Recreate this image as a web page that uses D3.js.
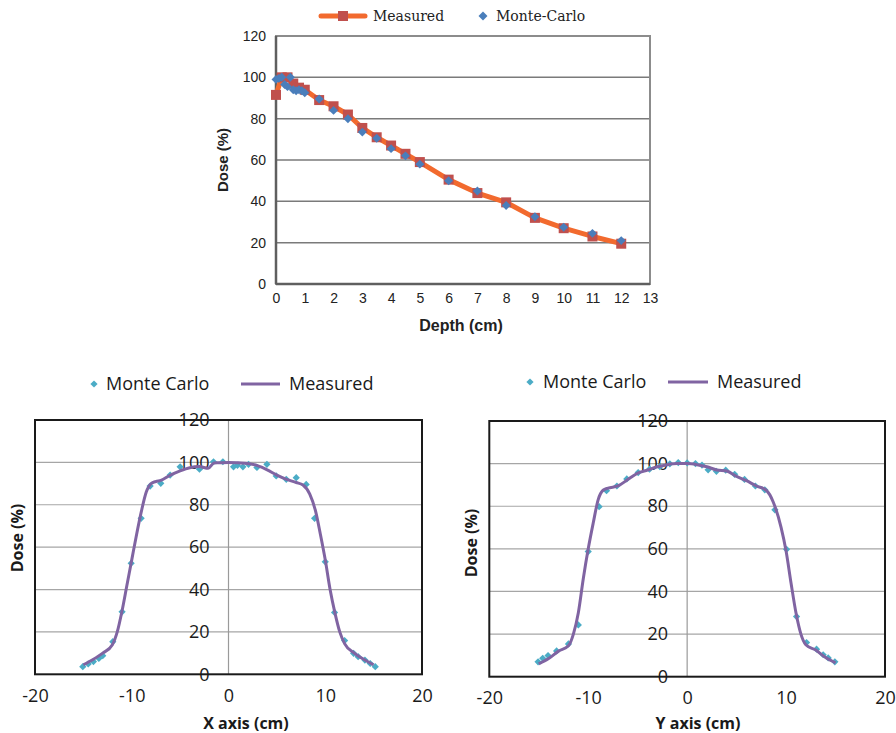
<!DOCTYPE html>
<html><head><meta charset="utf-8">
<script src="https://cdn.jsdelivr.net/npm/d3@7"></script>
<style>body{margin:0;background:#fff}svg{display:block}</style>
</head><body>
<svg id="c" width="896" height="733"></svg>
<script>
// ---- Top chart: depth dose ----
const pddMeasDepth = [0,0.2,0.4,0.6,0.8,1,1.5,2,2.5,3,3.5,4,4.5,5,6,7,8,9,10,11,12];
const pddMeasDose  = [91.5,100,100,97,95,94,89,86,82,75.5,71,67,63,59,50.5,44,39.5,32,27,23,19.5];
const pddMCDepth = [0,0.1,0.2,0.3,0.4,0.5,0.6,0.7,0.8,0.9,1,1.5,2,2.5,3,3.5,4,4.5,5,6,7,8,9,10,11,12];
const pddMCDose  = [99,99.5,100,96.5,95.5,100,94,93.5,94,93.5,92.5,89.5,84,80,73.5,70.5,65.5,62,58,50,45,38,32.5,27.5,24.5,21];
const pddXTicks = [0,1,2,3,4,5,6,7,8,9,10,11,12,13];
const doseTicks = [0,20,40,60,80,100,120];

// ---- Bottom left: X profile ----
const xMCPos  = [-15.06,-14.5,-13.96,-13.4,-13.0,-11.96,-11.0,-10.06,-9.03,-8.1,-7.0,-6.03,-5.0,-3.0,-1.55,-0.58,0.52,0.93,1.49,2.07,2.94,3.97,4.93,5.97,7.0,8.03,8.9,10.0,10.96,12.0,12.93,13.4,14.1,14.65,15.17];
const xMCDose = [3.6,4.9,6.0,7.5,8.8,15.4,29.5,52.4,73.6,88.8,90.1,94.0,97.9,96.8,100.3,100.3,97.9,98.6,97.9,99.1,97.6,99.1,93.6,92.0,92.8,89.6,73.6,53.1,29.2,15.9,9.9,8.3,6.7,5.1,3.6];
const xMeasPos  = [-15,-14,-13,-12,-11.5,-11,-10.5,-10,-9.5,-9,-8.5,-8,-7.5,-7,-6,-5,-4,-3,-2.1,-1.5,-1,0,1,2,3,4,5,6,7,7.7,8.4,9,9.5,10,10.5,11,11.5,12,13,14,15];
const xMeasDose = [4.5,7,10,14,20,30,42,54,66,77,86,90,91,91.5,94,96,97.5,98,97.2,99.7,99.8,100,99.8,99.5,98.5,96.5,94,92,90.5,89.3,85,77,66,54,40,29,20,14.5,10,7,4.5];

// ---- Bottom right: Y profile ----
const yMCPos  = [-15.07,-14.6,-14.06,-13.2,-12.0,-11.0,-10.0,-8.9,-8.15,-7.1,-6.1,-4.95,-3.8,-2.76,-1.75,-0.9,0,0.84,1.5,2.12,2.96,3.9,4.8,5.8,6.9,7.85,8.87,10.05,11.06,12.07,13.08,13.75,14.26,14.93];
const yMCDose = [7.0,8.6,9.9,12.1,15.4,24.3,58.7,79.8,87.3,89.5,92.8,95.8,97.4,98.6,99.9,100.5,100.3,100,99.3,97.1,96.4,96.9,95,92.6,89.5,87.7,78.3,59.8,28.2,16.0,12.9,10.3,8.8,7.0];
const yMeasPos  = [-15,-14,-13,-12,-11.5,-11,-10.5,-10,-9.5,-9,-8.5,-8,-7,-6,-5,-4,-3,-2,-1,0,1,2,3,4,5,6,7,8,8.7,9.5,10,10.5,11,11.5,12,13,14,15];
const yMeasDose = [6,8.5,12,14.5,20,30,46,60,72,83,87.5,88.5,89.5,92.5,95.5,97,98.5,99.5,100,100,99.5,98.5,97,96.5,94,92,89.5,87.5,82,70,59,44,30,20,15,12.5,9,6.5];
const profXTicks = [-20,-10,0,10,20];
const profYTicks = [0,20,40,60,80,100,120];

const svg = d3.select("#c");
const square = d3.symbol().type(d3.symbolSquare);
const fmt = d => String(d);

// ================= TOP CHART =================
(function(){
  const x = d3.scaleLinear().domain([0,13]).range([276,650]);
  const y = d3.scaleLinear().domain([0,120]).range([284,36]);
  const g = svg.append("g").attr("font-family","'Liberation Sans', Arial, sans-serif");
  g.selectAll("line.grid").data(doseTicks.filter(d=>d>0&&d<120)).enter().append("line")
    .attr("x1",x(0)).attr("x2",x(13)).attr("y1",d=>y(d)).attr("y2",d=>y(d))
    .attr("stroke","#7a7a7a").attr("stroke-width",1.5);
  g.append("rect").attr("x",x(0)).attr("y",y(120)).attr("width",x(13)-x(0)).attr("height",y(0)-y(120))
    .attr("fill","none").attr("stroke","#8c8c8c").attr("stroke-width",2);
  g.append("line").attr("x1",x(0)).attr("x2",x(13)).attr("y1",y(0)).attr("y2",y(0)).attr("stroke","#5f5f5f").attr("stroke-width",2.5);
  g.append("line").attr("x1",x(0)).attr("x2",x(0)).attr("y1",y(0)).attr("y2",y(120)).attr("stroke","#5f5f5f").attr("stroke-width",2.5);
  const xa = d3.axisBottom(x).tickValues(pddXTicks).tickFormat(fmt).tickSize(0).tickPadding(9);
  const xg = g.append("g").attr("transform",`translate(0,${y(0)})`).call(xa);
  xg.select(".domain").remove();
  xg.selectAll("text").attr("font-size",14).attr("fill","#222").attr("font-family","'Liberation Sans', Arial, sans-serif");
  const ya = d3.axisLeft(y).tickValues(doseTicks).tickFormat(fmt).tickSize(0).tickPadding(10);
  const yg = g.append("g").attr("transform",`translate(${x(0)},0)`).call(ya);
  yg.select(".domain").remove();
  yg.selectAll("text").attr("font-size",14).attr("fill","#222").attr("font-family","'Liberation Sans', Arial, sans-serif");
  const meas = pddMeasDepth.map((d,i)=>[d,pddMeasDose[i]]);
  const mc = pddMCDepth.map((d,i)=>[d,pddMCDose[i]]);
  g.append("path").datum(meas).attr("fill","none").attr("stroke","#f26a2e").attr("stroke-width",5)
    .attr("stroke-linejoin","round").attr("d",d3.line().x(d=>x(d[0])).y(d=>y(d[1])));
  g.selectAll("rect.sq").data(meas).enter().append("rect")
    .attr("x",d=>x(d[0])-5).attr("y",d=>y(d[1])-5).attr("width",10).attr("height",10).attr("fill","#c0504d");
  g.selectAll("path.mc").data(mc).enter().append("path")
    .attr("transform",d=>`translate(${x(d[0])},${y(d[1])}) rotate(45)`).attr("d",square.size(40)()).attr("fill","#4a7ebb");
  g.append("text").attr("x",461).attr("y",331).attr("text-anchor","middle").attr("font-weight","bold").attr("font-size",16).attr("fill","#222").text("Depth (cm)");
  g.append("text").attr("transform","translate(228,160) rotate(-90)").attr("text-anchor","middle").attr("font-weight","bold").attr("font-size",15).attr("fill","#222").text("Dose (%)");
  const lg = g.append("g").attr("font-family","'DejaVu Serif', serif").attr("font-size",14).attr("fill","#222");
  lg.append("line").attr("x1",321).attr("x2",365).attr("y1",16).attr("y2",16).attr("stroke","#f26a2e").attr("stroke-width",5).attr("stroke-linecap","round");
  lg.append("rect").attr("x",338).attr("y",11).attr("width",10).attr("height",10).attr("fill","#c0504d");
  lg.append("text").attr("x",373).attr("y",21).text("Measured");
  lg.append("path").attr("transform","translate(483,16) rotate(45)").attr("d",square.size(40)()).attr("fill","#4a7ebb");
  lg.append("text").attr("x",496).attr("y",21).text("Monte-Carlo");
})();

// ================= PROFILE CHARTS =================
function profile(opt){
  const x = d3.scaleLinear().domain([-20,20]).range([opt.left,opt.right]);
  const y = d3.scaleLinear().domain([0,120]).range([opt.bottom,opt.top]);
  const g = svg.append("g").attr("font-family","'Open Sans', sans-serif");
  g.selectAll("line.grid").data(profYTicks.filter(d=>d>0&&d<120)).enter().append("line")
    .attr("x1",x(-20)).attr("x2",x(20)).attr("y1",d=>y(d)).attr("y2",d=>y(d))
    .attr("stroke","#a6a6a6").attr("stroke-width",1.2);
  g.append("line").attr("x1",x(0)).attr("x2",x(0)).attr("y1",y(0)).attr("y2",y(120)).attr("stroke","#9a9a9a").attr("stroke-width",1.2);
  g.append("rect").attr("x",x(-20)).attr("y",y(120)).attr("width",x(20)-x(-20)).attr("height",y(0)-y(120))
    .attr("fill","none").attr("stroke","#1a1a1a").attr("stroke-width",2);
  const ya = d3.axisLeft(y).tickValues(profYTicks).tickFormat(fmt).tickSize(0).tickPadding(19);
  const yg = g.append("g").attr("transform",`translate(${x(0)},0)`).call(ya);
  yg.select(".domain").remove();
  yg.selectAll("text").attr("font-size",18).attr("fill","#1a1a1a").attr("font-family","'Open Sans', sans-serif");
  const xa = d3.axisBottom(x).tickValues(profXTicks).tickFormat(fmt).tickSize(0).tickPadding(15);
  const xg = g.append("g").attr("transform",`translate(0,${y(0)})`).call(xa);
  xg.select(".domain").remove();
  xg.selectAll("text").attr("font-size",18).attr("fill","#1a1a1a").attr("font-family","'Open Sans', sans-serif");
  const mc = opt.mcPos.map((d,i)=>[d,opt.mcDose[i]]);
  const meas = opt.measPos.map((d,i)=>[d,opt.measDose[i]]);
  g.selectAll("path.mc").data(mc).enter().append("path")
    .attr("transform",d=>`translate(${x(d[0])},${y(d[1])}) rotate(45)`).attr("d",square.size(26)()).attr("fill","#4bacc6");
  g.append("path").datum(meas).attr("fill","none").attr("stroke","#8064a2").attr("stroke-width",3)
    .attr("stroke-linejoin","round").attr("d",d3.line().curve(d3.curveMonotoneX).x(d=>x(d[0])).y(d=>y(d[1])));
  g.append("text").attr("x",opt.xtX).attr("y",opt.xtY).attr("text-anchor","middle").attr("font-weight","bold").attr("font-size",16).attr("fill","#1a1a1a").text(opt.xTitle);
  g.append("text").attr("transform",`translate(${opt.ytX},${opt.ytY}) rotate(-90)`).attr("text-anchor","middle").attr("font-weight","bold").attr("font-size",16).attr("fill","#1a1a1a").text("Dose (%)");
  const L = opt.leg;
  g.append("path").attr("transform",`translate(${L.dx},${L.y}) rotate(45)`).attr("d",square.size(26)()).attr("fill","#4bacc6");
  g.append("text").attr("x",L.t1).attr("y",L.y+6).attr("font-size",18).attr("fill","#1a1a1a").text("Monte Carlo");
  g.append("line").attr("x1",L.l1).attr("x2",L.l2).attr("y1",L.y).attr("y2",L.y).attr("stroke","#8064a2").attr("stroke-width",3);
  g.append("text").attr("x",L.t2).attr("y",L.y+6).attr("font-size",18).attr("fill","#1a1a1a").text("Measured");
}

profile({left:35,right:422,top:420,bottom:674.3,mcPos:xMCPos,mcDose:xMCDose,measPos:xMeasPos,measDose:xMeasDose,
  xTitle:"X axis (cm)",xtX:246,xtY:729,ytX:23,ytY:538,leg:{y:384,dx:94,t1:106,l1:241,l2:280,t2:289}});
profile({left:489.3,right:885,top:421,bottom:676.7,mcPos:yMCPos,mcDose:yMCDose,measPos:yMeasPos,measDose:yMeasDose,
  xTitle:"Y axis (cm)",xtX:698,xtY:729,ytX:477,ytY:543,leg:{y:382,dx:530,t1:543,l1:668,l2:708,t2:717}});
</script>
</body></html>
